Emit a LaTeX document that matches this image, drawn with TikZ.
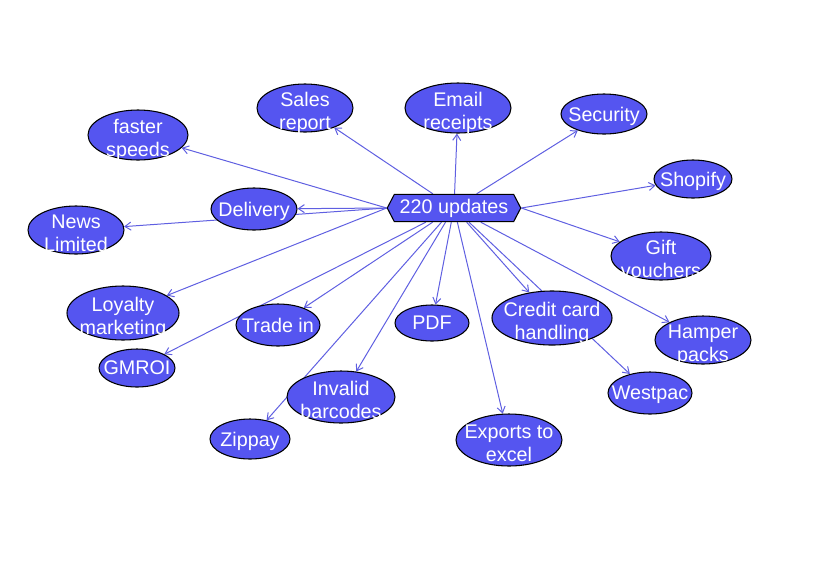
\documentclass[tikz,border=0pt]{standalone}
\usepackage{fontspec}
\setmainfont{Liberation Sans}
\usetikzlibrary{shapes.geometric,shapes.symbols,arrows.meta,backgrounds}
\definecolor{topicblue}{RGB}{85,85,240}
\definecolor{linkblue}{RGB}{95,95,225}
\begin{document}
\begin{tikzpicture}[x=0.75pt, y=-0.75pt,
    every node/.style={font=\fontsize{14.8}{17.2}\selectfont},
    topic/.style 2 args={ellipse, draw=black, line width=0.8pt, fill=topicblue, text=white, align=center,
        inner sep=-15pt, text depth=0pt, minimum width=#1*0.75pt, minimum height=#2*0.75pt},
    twoline/.style={text height=32.5pt},
    hubbox/.style={signal, signal to=east and west, signal pointer angle=125, draw=black, line width=0.8pt,
        fill=topicblue, text=white, inner xsep=4pt, inner ysep=2pt, minimum height=20.5pt},
    link/.style={draw=linkblue, line width=0.75pt, -{Straight Barb[length=4.5pt,width=6pt]}}]
        \useasboundingbox (0,0) rectangle (815,562);

        % Nodes
        \node[hubbox] (hub) at (454,208) {220 updates};
        \node[topic={96}{48}, twoline] (sales) at (305,108) {Sales\\report};
        \node[topic={106}{50}, twoline] (email) at (458,108) {Email\\receipts};
        \node[topic={86}{40}] (security) at (604,114) {Security};
        \node[topic={100}{50}, twoline] (faster) at (138,135) {faster\\speeds};
        \node[topic={78}{38}] (shopify) at (693,179) {Shopify};
        \node[topic={86}{42}] (delivery) at (254,209) {Delivery};
        \node[topic={96}{48}, twoline] (news) at (76,230) {News\\Limited};
        \node[topic={100}{48}, twoline] (gift) at (661,256) {Gift\\vouchers};
        \node[topic={112}{54}, twoline] (loyalty) at (123,313) {Loyalty\\marketing};
        \node[topic={84}{42}] (tradein) at (278,325) {Trade in};
        \node[topic={74}{36}] (pdf) at (432,323) {PDF};
        \node[topic={120}{54}, twoline] (credit) at (552,318) {Credit card\\handling};
        \node[topic={96}{48}, twoline] (hamper) at (703,340) {Hamper\\packs};
        \node[topic={76}{38}] (gmroi) at (137,368) {GMROI};
        \node[topic={108}{52}, twoline] (invalid) at (341,397) {Invalid\\barcodes};
        \node[topic={84}{42}] (westpac) at (650,393) {Westpac};
        \node[topic={80}{40}] (zippay) at (250,439) {Zippay};
        \node[topic={106}{52}, twoline] (exports) at (509,440) {Exports to\\excel};

        % Arrows
        \begin{scope}[on background layer]
        \draw[link] (hub) -- (sales);
        \draw[link] (hub) -- (email);
        \draw[link] (hub) -- (security);
        \draw[link] (hub.west) -- (faster);
        \draw[link] (hub.east) -- (shopify);
        \draw[link] (hub.west) -- (delivery);
        \draw[link] (hub.west) -- (news);
        \draw[link] (hub.east) -- (gift);
        \draw[link] (hub.west) -- (loyalty);
        \draw[link] (hub) -- (tradein);
        \draw[link] (hub) -- (pdf);
        \draw[link] (hub) -- (credit);
        \draw[link] (hub) -- (hamper);
        \draw[link] (hub) -- (gmroi);
        \draw[link] (hub) -- (invalid);
        \draw[link] (hub) -- (westpac);
        \draw[link] (hub) -- (zippay);
        \draw[link] (hub) -- (exports);
        \end{scope}
    \end{tikzpicture}
\end{document}
